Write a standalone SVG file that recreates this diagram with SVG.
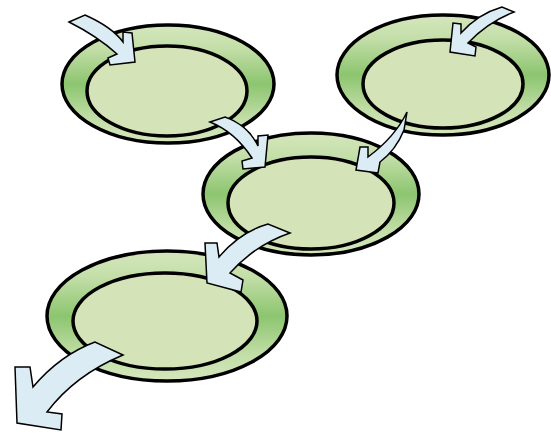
<svg xmlns="http://www.w3.org/2000/svg" width="551" height="435" viewBox="0 0 551 435">
<defs>
<linearGradient id="ring" x1="0" y1="0" x2="0" y2="1">
<stop offset="0" stop-color="#d5e7bd"/>
<stop offset="0.2" stop-color="#c3dea8"/>
<stop offset="0.5" stop-color="#8cc56f"/>
<stop offset="0.8" stop-color="#c3dea8"/>
<stop offset="1" stop-color="#d5e7bd"/>
</linearGradient>
<style>
.outer{fill:url(#ring);stroke:#000;stroke-width:3.5}
.inner{fill:#d5e3b9;stroke:#000;stroke-width:3.5}
.arrow{fill:#dbecf5;stroke:#000;stroke-width:1.5;stroke-linejoin:miter}
</style>
</defs>
<g id="node1">
<ellipse class="outer" cx="168" cy="84" rx="106" ry="59"/>
<ellipse class="inner" cx="167" cy="91" rx="80" ry="45"/>
</g>
<g id="node2">
<ellipse class="outer" cx="443" cy="75" rx="106" ry="60"/>
<ellipse class="inner" cx="443" cy="84" rx="80" ry="44"/>
</g>
<g id="node3">
<ellipse class="outer" cx="311" cy="194" rx="108" ry="61"/>
<ellipse class="inner" cx="311" cy="203" rx="83" ry="46"/>
</g>
<g id="node4">
<ellipse class="outer" cx="167" cy="316" rx="120" ry="65"/>
<ellipse class="inner" cx="165" cy="321" rx="92" ry="48"/>
</g>
<g id="connectors">
<path class="arrow" d="M69,22 L85,15 Q112,27 123,42 L123,32 L132,33 L135,62 L110,65 L108,58 L117,54 Q97,36 69,22 Z"/>
<path class="arrow" d="M502,7 Q478,14 461,33 L461,24 L453,23 L450,52 L475,56 L476,47 L468,43 Q488,22 514,12 Z"/>
<path class="arrow" d="M210,122 L225,117 Q248,125 258,146 L258,136 L268,135 L265,167 L243,169 L242,161 L252,158 Q235,132 210,122 Z"/>
<path class="arrow" d="M360,147 L368,147 L368,157 Q395,137 407,112 L404,130 Q396,150 380,162 L378,173 L356,170 Z"/>
<path class="arrow" d="M205,243 L217,243 L219,257 Q240,232 268,224 L290,233 Q255,245 230,273 L243,280 L241,292 L207,283 Z"/>
<path class="arrow" d="M15,367 L30,367 L33,387 Q60,355 95,342 L123,355 Q75,375 47,412 L62,414 L61,430 L17,423 Z"/>
</g>
</svg>
